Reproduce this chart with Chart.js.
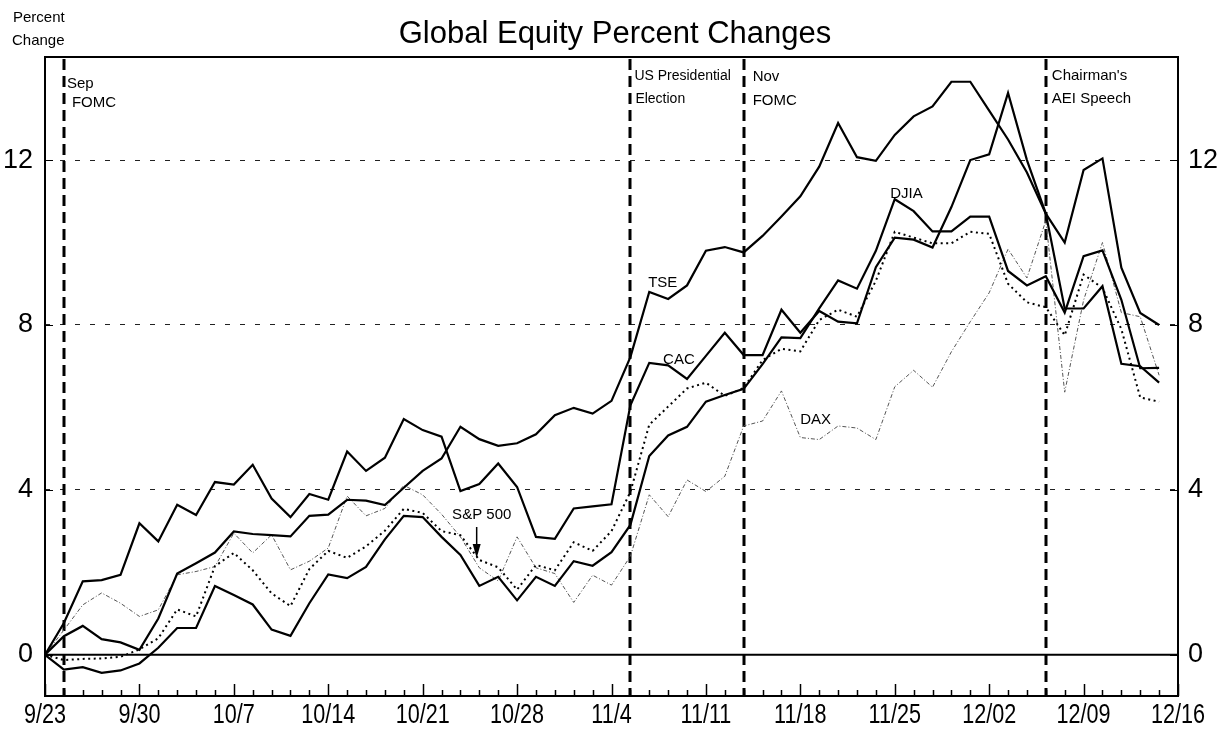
<!DOCTYPE html>
<html>
<head>
<meta charset="utf-8">
<script src="https://cdn.jsdelivr.net/npm/chart.js@4.4.1/dist/chart.umd.min.js"></script>
<style>
  html, body { margin: 0; padding: 0; background: #fff; }
  #wrap { width: 1230px; height: 733px; }
</style>
</head>
<body>
<div id="wrap"><canvas id="c" width="1230" height="733"></canvas></div>
<script>
// ---------- data ----------
const dates = [
  '9/23','9/24','9/25','9/26','9/27',
  '9/30','10/1','10/2','10/3','10/4',
  '10/7','10/8','10/9','10/10','10/11',
  '10/14','10/15','10/16','10/17','10/18',
  '10/21','10/22','10/23','10/24','10/25',
  '10/28','10/29','10/30','10/31','11/1',
  '11/4','11/5','11/6','11/7','11/8',
  '11/11','11/12','11/13','11/14','11/15',
  '11/18','11/19','11/20','11/21','11/22',
  '11/25','11/26','11/27','11/28','11/29',
  '12/2','12/3','12/4','12/5','12/6',
  '12/9','12/10','12/11','12/12','12/13',
  '12/16'
];
const xTickLabels = ['9/23','9/30','10/7','10/14','10/21','10/28','11/4','11/11','11/18','11/25','12/02','12/09','12/16'];
const yTickValues = [0, 4, 8, 12];

const tse = [
  0, 0.45, 0.70, 0.38, 0.30,
  0.12, 0.88, 1.97, 2.22, 2.48,
  2.99, 2.93, 2.90, 2.87, 3.37,
  3.40, 3.76, 3.74, 3.63, 4.05,
  4.46, 4.76, 5.53, 5.23, 5.07,
  5.13, 5.35, 5.81, 5.99, 5.85,
  6.16, 7.22, 8.80, 8.63, 8.96,
  9.80, 9.89, 9.76, 10.16, 10.63,
  11.12, 11.84, 12.90, 12.07, 11.98,
  12.61, 13.06, 13.30, 13.90, 13.90,
  13.20, 12.50, 11.70, 10.70, 10.00,
  11.76, 12.04, 9.39, 8.29, 8.00
];
const cac = [
  0, 0.77, 1.78, 1.81, 1.94,
  3.19, 2.75, 3.64, 3.39, 4.19,
  4.13, 4.61, 3.79, 3.34, 3.90,
  3.76, 4.93, 4.46, 4.78, 5.72,
  5.45, 5.29, 3.97, 4.14, 4.64,
  4.07, 2.86, 2.81, 3.55, 3.60,
  3.65, 6.05, 7.08, 7.02, 6.69,
  7.25, 7.81, 7.27, 7.27, 8.37,
  7.81, 8.34, 8.08, 8.04, 9.40,
  10.12, 10.07, 9.88, 10.86, 12.00,
  12.14, 13.63, 12.00, 10.70, 8.40,
  8.40, 8.94, 7.06, 7.00, 6.60
];
const djia = [
  0, -0.36, -0.30, -0.44, -0.38,
  -0.21, 0.17, 0.65, 0.65, 1.67,
  1.45, 1.22, 0.61, 0.46, 1.25,
  1.95, 1.86, 2.13, 2.80, 3.37,
  3.34, 2.86, 2.42, 1.67, 1.89,
  1.32, 1.89, 1.67, 2.27, 2.16,
  2.49, 3.15, 4.82, 5.32, 5.53,
  6.14, 6.30, 6.45, 7.05, 7.70,
  7.68, 8.40, 9.08, 8.88, 9.80,
  11.05, 10.76, 10.27, 10.27, 10.63,
  10.63, 9.31, 8.96, 9.18, 8.30,
  9.67, 9.81, 8.61, 6.95, 6.96
];
const sp500 = [
  0, -0.13, -0.10, -0.09, -0.05,
  0.13, 0.40, 1.10, 0.93, 2.15,
  2.47, 2.05, 1.49, 1.18, 2.08,
  2.52, 2.35, 2.63, 3.01, 3.54,
  3.44, 3.00, 2.90, 2.30, 2.12,
  1.58, 2.18, 2.05, 2.73, 2.52,
  3.00, 3.95, 5.58, 6.02, 6.46,
  6.60, 6.28, 6.47, 7.15, 7.42,
  7.36, 8.12, 8.37, 8.20, 9.07,
  10.26, 10.12, 9.98, 9.98, 10.26,
  10.21, 9.00, 8.55, 8.43, 7.75,
  9.22, 8.90, 7.90, 6.24, 6.14
];
const dax = [
  0, 0.60, 1.21, 1.50, 1.25,
  0.93, 1.09, 1.94, 2.02, 2.14,
  2.95, 2.47, 2.91, 2.06, 2.27,
  2.59, 3.85, 3.37, 3.55, 4.11,
  3.88, 3.41, 2.86, 2.11, 1.79,
  2.86, 2.11, 1.97, 1.27, 1.93,
  1.69, 2.39, 3.88, 3.35, 4.24,
  3.96, 4.33, 5.55, 5.67, 6.40,
  5.27, 5.22, 5.55, 5.50, 5.22,
  6.50, 6.90, 6.49, 7.35, 8.08,
  8.78, 9.84, 9.14, 10.53, 6.37,
  8.60, 10.00, 8.30, 8.20, 6.78
];

const eventDates = ['9/24', '11/5', '11/13', '12/5'];
const eventText = [['Sep', 'FOMC'], ['US Presidential', 'Election'], ['Nov', 'FOMC'], ["Chairman's", 'AEI Speech']];

const seriesNames = ['TSE', 'CAC', 'DJIA', 'S&P 500', 'DAX'];
// label anchors in data space: [x index, y value]
const seriesLabelAt = [[31.94, 9.03], [32.73, 7.16], [44.76, 11.19], [21.56, 3.40], [39.99, 5.70]];

const SANS = '"Liberation Sans", Arial, Helvetica, sans-serif';

// ---------- plugins ----------
const bgPlugin = {
  id: 'bg',
  beforeDraw(chart) {
    const c = chart.ctx;
    c.save(); c.fillStyle = '#fff'; c.fillRect(0, 0, chart.width, chart.height); c.restore();
  }
};

const framePlugin = {
  id: 'frame',
  beforeDatasetsDraw(chart) {
    const { ctx, chartArea: a, scales } = chart;
    const xs = scales.x, ys = scales.y;
    ctx.save();
    // zero line
    const y0 = ys.getPixelForValue(0);
    ctx.strokeStyle = '#000'; ctx.lineWidth = 2; ctx.setLineDash([]);
    ctx.beginPath(); ctx.moveTo(a.left, y0); ctx.lineTo(a.right, y0); ctx.stroke();
    // event lines
    ctx.lineWidth = 3; ctx.setLineDash([11, 6]);
    eventDates.forEach(d => {
      const x = Math.round(xs.getPixelForValue(dates.indexOf(d)));
      ctx.beginPath(); ctx.moveTo(x, a.top + 2); ctx.lineTo(x, a.bottom); ctx.stroke();
    });
    ctx.restore();
  },
  afterDraw(chart) {
    const { ctx, chartArea: a, scales } = chart;
    const xs = scales.x, ys = scales.y;
    ctx.save();
    // frame
    ctx.strokeStyle = '#000'; ctx.lineWidth = 2; ctx.setLineDash([]);
    ctx.strokeRect(a.left, a.top, a.right - a.left, a.bottom - a.top);
    // bottom ticks (inside)
    ctx.lineWidth = 1.5;
    for (let i = 0; i < dates.length; i++) {
      const x = Math.round(xs.getPixelForValue(i)) + 0.5;
      const len = (i % 5 === 0) ? 12 : 6;
      ctx.beginPath(); ctx.moveTo(x, a.bottom); ctx.lineTo(x, a.bottom - len); ctx.stroke();
    }
    // x tick labels (condensed, like the original narrow face)
    ctx.fillStyle = '#000'; ctx.textAlign = 'center'; ctx.textBaseline = 'middle';
    ctx.font = '27px ' + SANS;
    xTickLabels.forEach((t, k) => {
      const x = xs.getPixelForValue(k * 5);
      ctx.save(); ctx.translate(x, a.bottom + 20); ctx.scale(0.8, 1); ctx.fillText(t, 0, 0); ctx.restore();
    });
    // y ticks (inside, both sides)
    ctx.lineWidth = 1;
    yTickValues.forEach(v => {
      const y = Math.round(ys.getPixelForValue(v)) + 0.5;
      ctx.beginPath(); ctx.moveTo(a.left, y); ctx.lineTo(a.left + 8, y); ctx.stroke();
      ctx.beginPath(); ctx.moveTo(a.right, y); ctx.lineTo(a.right - 8, y); ctx.stroke();
    });
    // event annotations
    ctx.textBaseline = 'middle'; ctx.textAlign = 'left';
    const evStyle = [
      { dx: [3, 8], dy: [27, 46], size: 15 },
      { dx: [4, 5], dy: [19, 42], size: 14 },
      { dx: [9, 9], dy: [20, 44], size: 15 },
      { dx: [6, 6], dy: [19, 42], size: 15 }
    ];
    eventDates.forEach((d, k) => {
      const x = xs.getPixelForValue(dates.indexOf(d));
      const st = evStyle[k];
      ctx.font = st.size + 'px ' + SANS;
      eventText[k].forEach((t, j) => ctx.fillText(t, x + st.dx[j], a.top + st.dy[j]));
    });
    // series labels
    ctx.font = '15px ' + SANS;
    seriesNames.forEach((n, k) => {
      const p = seriesLabelAt[k];
      ctx.fillText(n, xs.getPixelForValue(p[0]), ys.getPixelForValue(p[1]));
    });
    // S&P arrow
    const ax = xs.getPixelForValue(22.86);
    const yA = ys.getPixelForValue(3.1), yB = ys.getPixelForValue(2.35);
    ctx.lineWidth = 1.5;
    ctx.beginPath(); ctx.moveTo(ax, yA); ctx.lineTo(ax, yB - 10); ctx.stroke();
    ctx.beginPath(); ctx.moveTo(ax - 4, yB - 14); ctx.lineTo(ax + 4, yB - 14); ctx.lineTo(ax, yB); ctx.closePath(); ctx.fill();
    // y-axis title
    ctx.font = '15px ' + SANS;
    ctx.fillText('Percent', 13, 18);
    ctx.fillText('Change', 12, 41);
    ctx.restore();
  }
};

// ---------- chart ----------
const solid = { borderColor: '#000', borderWidth: 2.2, pointRadius: 0, tension: 0, fill: false };
const yScaleCommon = {
  min: -1.0, max: 14.5,
  afterBuildTicks: s => { s.ticks = yTickValues.map(v => ({ value: v })); },
  ticks: { color: '#000', font: { family: SANS, size: 27 } },
  border: { display: false }
};

new Chart(document.getElementById('c'), {
  type: 'line',
  data: {
    labels: dates,
    datasets: [
      Object.assign({ label: seriesNames[0], data: tse }, solid),
      Object.assign({ label: seriesNames[1], data: cac }, solid),
      Object.assign({ label: seriesNames[2], data: djia }, solid),
      { label: seriesNames[3], data: sp500, borderColor: '#000', borderWidth: 2, borderDash: [2, 3.5], pointRadius: 0, tension: 0, fill: false },
      { label: seriesNames[4], data: dax, borderColor: '#555', borderWidth: 1, borderDash: [4, 2, 1, 2], pointRadius: 0, tension: 0, fill: false }
    ]
  },
  options: {
    responsive: false,
    animation: false,
    devicePixelRatio: 1,
    layout: { padding: 0 },
    plugins: {
      legend: { display: false },
      tooltip: { enabled: false },
      title: {
        display: true,
        text: 'Global Equity Percent Changes',
        color: '#000',
        font: { family: SANS, size: 31, weight: 'normal', lineHeight: 1.2 },
        padding: { top: 15.5, bottom: 4.3 }
      }
    },
    scales: {
      x: {
        type: 'category',
        offset: false,
        grid: { display: false, drawTicks: false },
        border: { display: false },
        ticks: { display: false, autoSkip: false, maxRotation: 0 },
        afterFit: s => { s.height = 37; }
      },
      y: Object.assign({}, yScaleCommon, {
        position: 'left',
        grid: {
          drawTicks: false,
          color: ctx => (ctx.tick && ctx.tick.value === 0 ? 'rgba(0,0,0,0)' : '#222'),
          lineWidth: 1
        },
        border: { display: false, dash: [5, 10] },
        ticks: Object.assign({}, yScaleCommon.ticks, { padding: 12 }),
        afterFit: s => { s.width = 45; }
      }),
      y2: Object.assign({}, yScaleCommon, {
        position: 'right',
        grid: { display: false, drawTicks: false },
        ticks: Object.assign({}, yScaleCommon.ticks, { padding: 10 }),
        afterFit: s => { s.width = 52; }
      })
    }
  },
  plugins: [bgPlugin, framePlugin]
});
</script>
</body>
</html>
